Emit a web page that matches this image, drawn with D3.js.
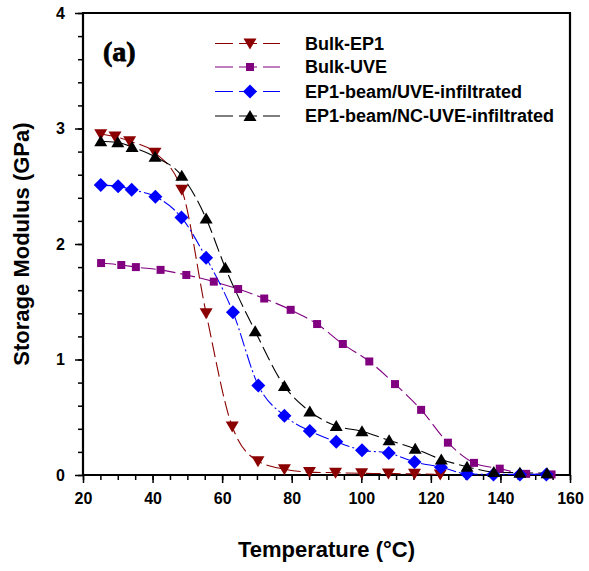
<!DOCTYPE html>
<html>
<head>
<meta charset="utf-8">
<script src="https://cdn.jsdelivr.net/npm/d3@7"></script>
<style>
  html, body { margin: 0; padding: 0; background: #fff; }
  svg { display: block; }
  text { font-family: "Liberation Sans", Arial, sans-serif; font-weight: bold; fill: #000; }
</style>
</head>
<body>
<svg id="chart" width="589" height="571"></svg>
<script>
// Storage modulus (GPa) versus temperature (°C) for four materials
const tempEP1 = [25.1, 29.2, 33.4, 40.7, 48.4, 55.4, 62.9, 70.3, 77.9, 85.1, 92.6, 100.1, 107.8, 115.3, 122.7];
const modEP1  = [2.95, 2.93, 2.89, 2.79, 2.47, 1.40, 0.42, 0.12, 0.05, 0.025, 0.02, 0.015, 0.012, 0.01, 0.005];

const tempUVE = [25.2, 31.0, 35.2, 42.3, 49.7, 57.6, 64.6, 72.1, 79.7, 87.3, 94.7, 102.3, 109.7, 117.2, 124.9, 132.4, 139.8, 147.4, 154.7];
const modUVE  = [1.835, 1.818, 1.80, 1.776, 1.732, 1.674, 1.61, 1.528, 1.43, 1.307, 1.134, 0.983, 0.787, 0.564, 0.28, 0.105, 0.055, 0.01, 0.005];

const tempBeam = [25.1, 30.1, 34.0, 40.8, 48.3, 55.4, 63.1, 70.4, 77.9, 85.2, 92.8, 100.2, 107.9, 115.3, 122.9, 130.4, 138.0, 145.6, 153.2];
const modBeam  = [2.51, 2.50, 2.47, 2.41, 2.23, 1.88, 1.41, 0.775, 0.513, 0.381, 0.288, 0.215, 0.19, 0.113, 0.068, 0.01, 0.005, 0.005, 0.005];

const tempNC = [25.1, 30.0, 34.1, 40.7, 48.4, 55.4, 60.9, 69.5, 77.9, 85.2, 92.8, 100.2, 108.0, 115.5, 123.0, 130.4, 138.1, 145.6, 153.4];
const modNC  = [2.89, 2.88, 2.84, 2.756, 2.59, 2.22, 1.795, 1.245, 0.77, 0.55, 0.425, 0.378, 0.30, 0.227, 0.135, 0.072, 0.025, 0.02, 0.016];

const seriesNames = ["Bulk-EP1", "Bulk-UVE", "EP1-beam/UVE-infiltrated", "EP1-beam/NC-UVE-infiltrated"];
const xTicks = [20, 40, 60, 80, 100, 120, 140, 160];
const yTicks = [0, 1, 2, 3, 4];

const series = [
  { name: seriesNames[0], t: tempEP1,  m: modEP1,  color: "#8b0000", dash: "15,5",      marker: "tdown" },
  { name: seriesNames[1], t: tempUVE,  m: modUVE,  color: "#800080", dash: "15,5",      marker: "square" },
  { name: seriesNames[2], t: tempBeam, m: modBeam, color: "#0000ff", dash: "14,3,2,3",  marker: "diamond" },
  { name: seriesNames[3], t: tempNC,   m: modNC,   color: "#000000", dash: "15,5",      marker: "tup" }
];

const svg = d3.select("#chart");
const L = 83, R = 570, T = 13, B = 475;

const x = d3.scaleLinear().domain([20, 160]).range([L, R]);
const y = d3.scaleLinear().domain([0, 4]).range([B, T]);

// marker shapes
function markerPath(kind) {
  switch (kind) {
    case "tdown": return "M-6.5,-5L6.5,-5L0,6Z";
    case "tup":   return "M-6.5,5L6.5,5L0,-6Z";
    case "square":return "M-4,-4L4,-4L4,4L-4,4Z";
    case "diamond":return "M0,-7L7,0L0,7L-7,0Z";
  }
}

// axes: minor ticks first, then major ticks with labels
const gx = svg.append("g");
gx.append("g").attr("transform", `translate(0,${B})`)
  .call(d3.axisBottom(x).tickValues(d3.range(20, 161, 5)).tickSize(5).tickFormat(""))
  .call(g => g.select(".domain").remove());
gx.append("g").attr("transform", `translate(0,${B})`)
  .call(d3.axisBottom(x).tickValues(xTicks).tickSize(8).tickSizeOuter(0).tickPadding(6).tickFormat(d3.format("d")))
  .call(g => g.select(".domain").remove())
  .call(g => g.selectAll("text").style("font-size", "16px").attr("dy", "0.95em"));

const gy = svg.append("g");
gy.append("g").attr("transform", `translate(${L},0)`)
  .call(d3.axisLeft(y).tickValues(d3.range(0, 4.01, 0.2)).tickSize(5).tickFormat(""))
  .call(g => g.select(".domain").remove());
gy.append("g").attr("transform", `translate(${L},0)`)
  .call(d3.axisLeft(y).tickValues(yTicks).tickSize(8).tickSizeOuter(0).tickPadding(10).tickFormat(d3.format("d")))
  .call(g => g.select(".domain").remove())
  .call(g => g.selectAll("text").style("font-size", "16px"));

svg.selectAll(".tick line").attr("stroke", "#000").attr("stroke-width", 1.5);

// plot frame
svg.append("path")
  .attr("d", `M${L},${T}H${R}V${B}H${L}Z`)
  .attr("fill", "none").attr("stroke", "#000").attr("stroke-width", 2.2);

// curves and markers
const line = d3.line().curve(d3.curveMonotoneX);
series.forEach(s => {
  const pts = s.t.map((t, i) => [x(t), y(s.m[i])]);
  svg.append("path")
    .attr("d", line(pts))
    .attr("fill", "none")
    .attr("stroke", s.color)
    .attr("stroke-width", 1.1)
    .attr("stroke-dasharray", s.dash);
});
series.forEach(s => {
  svg.append("g").selectAll("path")
    .data(s.t.map((t, i) => [x(t), y(s.m[i])]))
    .join("path")
    .attr("d", markerPath(s.marker))
    .attr("transform", d => `translate(${d[0]},${d[1]})`)
    .attr("fill", s.color);
});

// legend
const legY = [43.5, 67, 91.5, 116];
series.forEach((s, i) => {
  const g = svg.append("g").attr("transform", `translate(0,${legY[i]})`);
  g.append("line").attr("x1", 215).attr("x2", 280).attr("y1", 0).attr("y2", 0)
    .attr("stroke", s.color).attr("stroke-width", 1.1).attr("stroke-dasharray", "18,6");
  g.append("path").attr("d", markerPath(s.marker))
    .attr("transform", "translate(250,0)").attr("fill", s.color);
  g.append("text").attr("x", 305).attr("y", 0).attr("dy", "0.36em")
    .style("font-size", "18px").text(s.name);
});

// panel tag
svg.append("text").attr("x", 103).attr("y", 61)
  .style("font-family", "'Liberation Serif', 'Times New Roman', serif")
  .style("font-size", "28px")
  .attr("stroke", "#000").attr("stroke-width", 0.8)
  .text("(a)");

// axis titles
svg.append("text").attr("x", (L + R) / 2).attr("y", 557)
  .attr("text-anchor", "middle").style("font-size", "22px")
  .text("Temperature (°C)");
svg.append("text").attr("transform", `translate(29,${(T + B) / 2}) rotate(-90)`)
  .attr("text-anchor", "middle").style("font-size", "22px")
  .text("Storage Modulus (GPa)");
</script>
</body>
</html>
